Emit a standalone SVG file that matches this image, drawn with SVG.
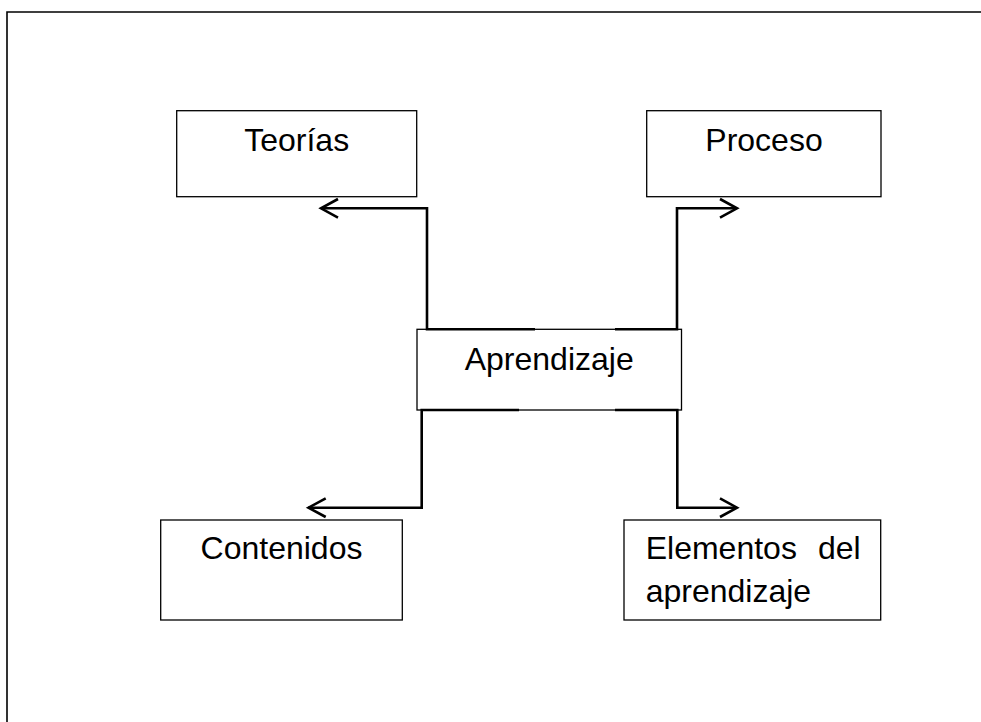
<svg xmlns="http://www.w3.org/2000/svg" width="981" height="722" viewBox="0 0 981 722">
<style>
.box{fill:#fff;stroke:#000;stroke-width:1.3}
.lbl{font-family:"Liberation Sans",Arial,sans-serif;font-size:32px;fill:#000}
.conn{fill:none;stroke:#000;stroke-width:2.6;stroke-linejoin:miter}
.head{fill:none;stroke:#000;stroke-width:2.6;stroke-linecap:butt}
</style>
<rect x="0" y="0" width="981" height="722" fill="#fff"/>
<path d="M7,722 V12 H981" fill="none" stroke="#000" stroke-width="1.6"/>
<g id="teorias">
<rect class="box" x="176.7" y="110.7" width="240" height="86"/>
<text class="lbl" x="296.7" y="151" text-anchor="middle">Teorías</text>
</g>
<g id="proceso">
<rect class="box" x="646.7" y="110.7" width="234.3" height="86"/>
<text class="lbl" x="764" y="151" text-anchor="middle">Proceso</text>
</g>
<g id="aprendizaje">
<rect class="box" x="417" y="329.3" width="264.5" height="80.7"/>
<text class="lbl" x="549.2" y="370" text-anchor="middle">Aprendizaje</text>
</g>
<g id="contenidos">
<rect class="box" x="160.7" y="520" width="241.6" height="100"/>
<text class="lbl" x="281.5" y="559" text-anchor="middle">Contenidos</text>
</g>
<g id="elementos">
<rect class="box" x="624" y="520" width="256.7" height="100"/>
<text class="lbl"><tspan x="645.7" y="559">Elementos</tspan><tspan x="860.7" y="559" text-anchor="end">del</tspan><tspan x="645.7" y="601.5">aprendizaje</tspan></text>
</g>
<g id="connectors">
<path class="conn" d="M535,329.3 H427 V208.3 H322"/>
<path class="head" d="M338,199 L321,208.3 L338,217.6"/>
<path class="conn" d="M615,329.3 H677 V208.3 H736"/>
<path class="head" d="M720,199 L737,208.3 L720,217.6"/>
<path class="conn" d="M519,410 H421.7 V507.7 H308"/>
<path class="head" d="M325.7,498.4 L308.5,507.7 L325.7,517"/>
<path class="conn" d="M615,410 H677.3 V507.7 H736"/>
<path class="head" d="M720,498.4 L737,507.7 L720,517"/>
</g>
</svg>
